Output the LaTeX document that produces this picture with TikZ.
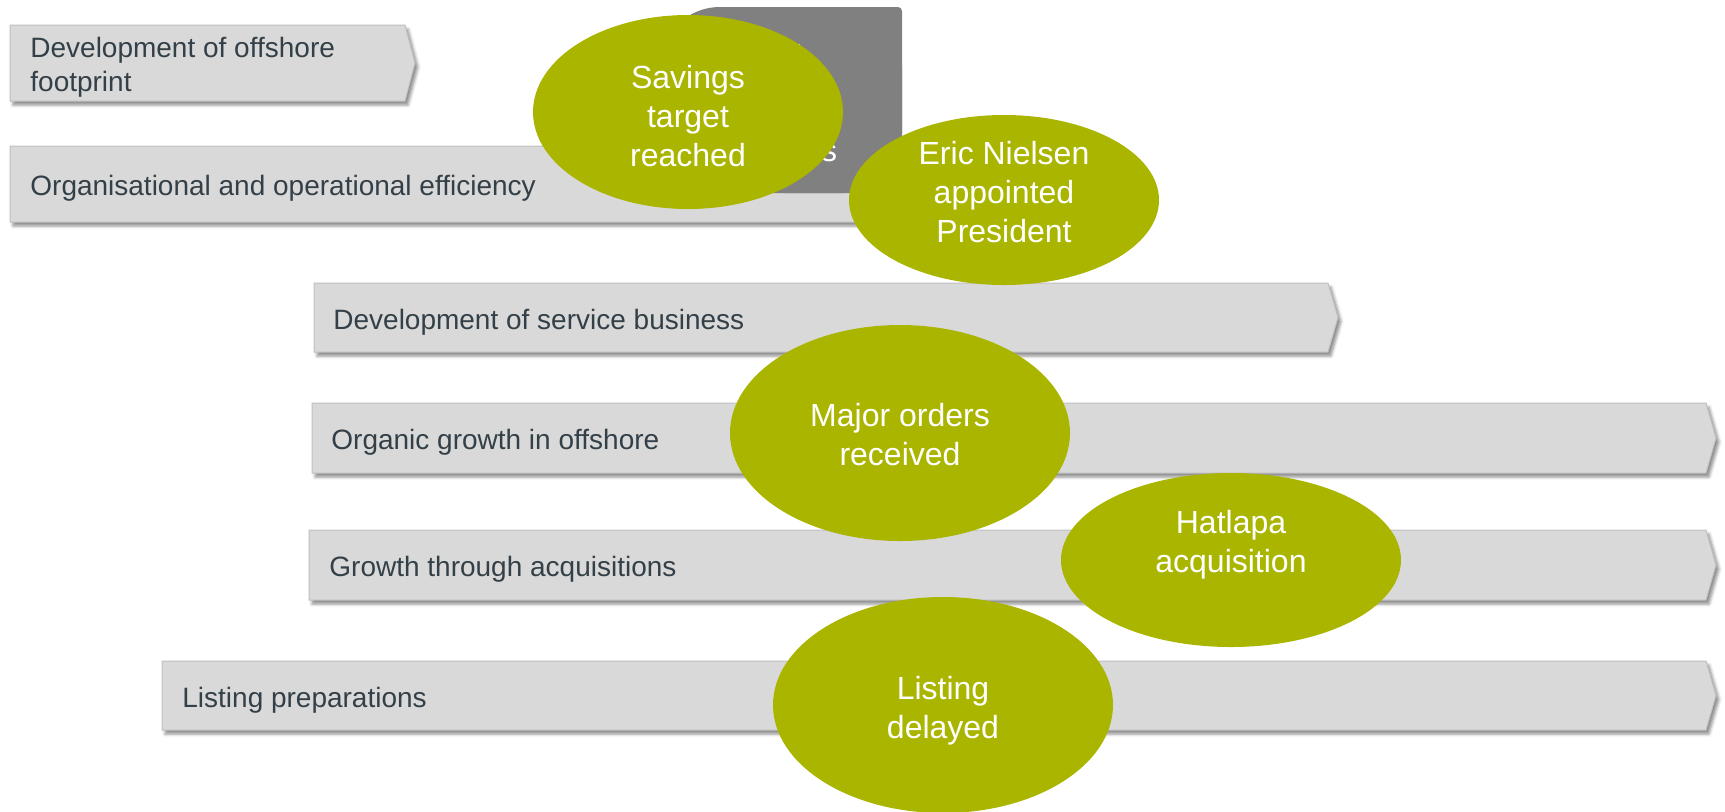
\documentclass[tikz,border=0pt]{standalone}
\usepackage{fontspec}
\setmainfont{Liberation Sans}
\usetikzlibrary{shapes.geometric,shadows.blur}

\definecolor{barfill}{RGB}{217,217,217}
\definecolor{baredge}{RGB}{191,191,191}
\definecolor{bartext}{RGB}{52,64,72}
\definecolor{eventgreen}{RGB}{170,181,0}
\definecolor{keygray}{RGB}{128,128,128}

\tikzset{
	phase/.style={fill=barfill,draw=baredge,line width=.5pt,
		blur shadow={shadow xshift=1.5pt,shadow yshift=-2pt,shadow blur radius=1.5pt,shadow opacity=45}},
	phasetext/.style={anchor=west,inner sep=0pt,align=left,yshift=-2.2pt,text=bartext,font=\fontsize{14}{17}\selectfont},
	event/.style={ellipse,fill=eventgreen,inner sep=0pt},
	eventtext/.style={inner sep=0pt,align=center,text=white,font=\fontsize{16}{19.5}\selectfont},
}

% one phase arrow: left, top, flat right end, bottom (pixel grid)
\newcommand\phasebar[4]{%
	\filldraw[phase] (#1,#2) -- (#3,#2) -- ({#3+10},{(#2+#4)/2}) -- (#3,#4) -- (#1,#4) -- cycle;}

\begin{document}
\begin{tikzpicture}[x=.5pt,y=-.5pt]
	\useasboundingbox (0,0) rectangle (1725,811);
	% phase arrows
	\phasebar{10}{25}{405}{101}
	\node[phasetext] (footprint) at (30,63) {Development of offshore\\footprint};
	\phasebar{10}{146}{860}{222}
	\node[phasetext] (efficiency) at (30,184) {Organisational and operational efficiency};
	\phasebar{314}{283}{1328}{352}
	\node[phasetext] (service) at (333,317.5) {Development of service business};
	\phasebar{312}{403}{1706}{473}
	\node[phasetext] (organic) at (331,438) {Organic growth in offshore};
	\phasebar{309}{530}{1706}{600}
	\node[phasetext] (acquisitions) at (329,565) {Growth through acquisitions};
	\phasebar{162}{661}{1706}{730}
	\node[phasetext] (listing) at (182,695.5) {Listing preparations};
	% grey box behind the first events
	\fill[keygray,rounded corners=30pt] (660,7) rectangle (902,193);
	\fill[keygray,rounded corners=2pt] (780,7) rectangle (902,193);
	\node[eventtext] (keyone) at (798,55) {1};
	\node[eventtext] (keys) at (829,153) {s};
	% events
	\node[event,minimum width=155pt,minimum height=97pt] (savings) at (688,112) {};
	\node[eventtext] (savingstxt) at (688,116) {Savings\\target\\reached};
	\node[event,minimum width=155pt,minimum height=85pt] (nielsen) at (1004,200) {};
	\node[eventtext] (nielsentxt) at (1004,192) {Eric Nielsen\\appointed\\President};
	\node[event,minimum width=170pt,minimum height=108pt] (orders) at (900,433) {};
	\node[eventtext] (orderstxt) at (900,435) {Major orders\\received};
	\node[event,minimum width=170pt,minimum height=87pt] (hatlapa) at (1231,560) {};
	\node[eventtext] (hatlapatxt) at (1231,545) {Hatlapa\\acquisition};
	\node[event,minimum width=170pt,minimum height=108pt] (delayed) at (943,705) {};
	\node[eventtext] (delayedtxt) at (943,711) {Listing\\delayed};
\end{tikzpicture}
\end{document}
